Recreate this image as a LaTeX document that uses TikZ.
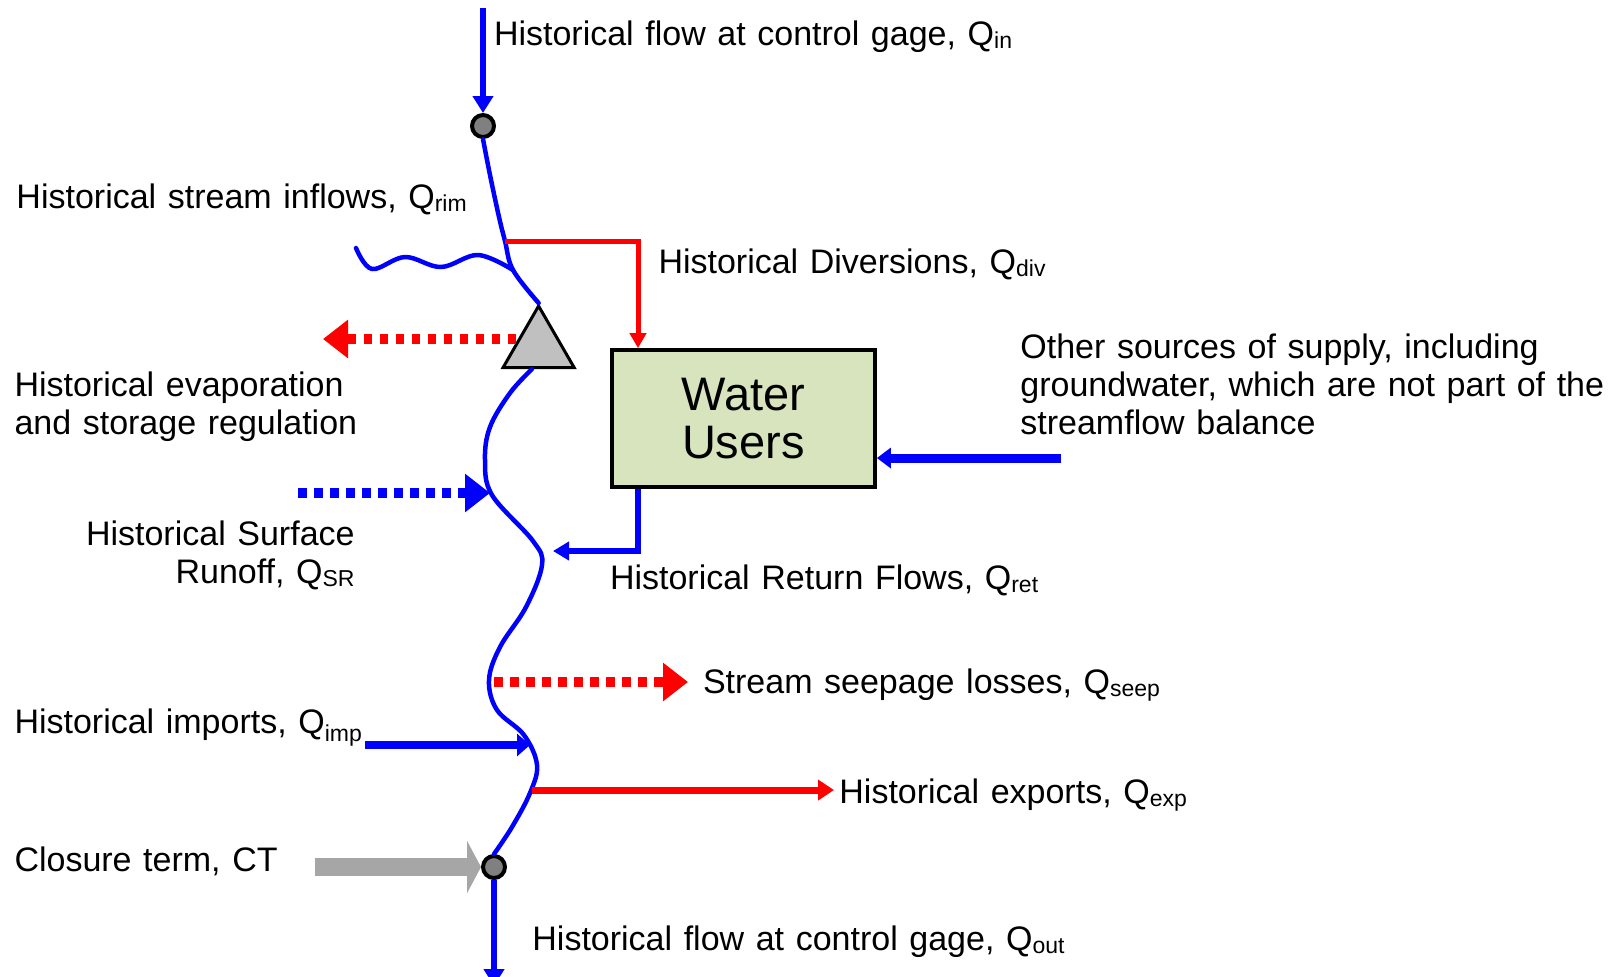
\documentclass[tikz,border=0pt]{standalone}
\usepackage{fontspec}
\setmainfont{Liberation Sans}
\usetikzlibrary{arrows.meta,shapes.geometric}
\definecolor{rblue}{RGB}{0,0,255}
\definecolor{rred}{RGB}{255,0,0}
\definecolor{boxgreen}{RGB}{215,228,189}
\definecolor{ctgray}{RGB}{166,166,166}
\definecolor{gagegray}{RGB}{128,128,128}
\definecolor{trigray}{RGB}{192,192,192}
\newcommand\qsub[1]{\raisebox{-1.5pt}{\fontsize{11.5}{11.5}\selectfont #1}}
\newcommand\qlow[1]{\raisebox{-4pt}{\fontsize{11.5}{11.5}\selectfont #1}}
\newcommand\lblfont{\fontsize{17}{19}\selectfont\spaceskip=5.8pt plus 1pt minus 1pt\relax}
\begin{document}
\begin{tikzpicture}[x=0.5pt,y=-0.5pt,
  lbl/.style={font=\lblfont, inner sep=0pt, outer sep=0pt, text=black},
  gage/.style={circle, draw=black, line width=2pt, fill=gagegray, minimum size=11pt, inner sep=0pt},
  river/.style={draw=rblue, line width=2.25pt, line join=round, line cap=round},
  dotarrow/.style={line width=5pt, dash pattern=on 4.25pt off 3.75pt, -{Triangle[length=12.5pt,width=18.5pt]}},
]
\useasboundingbox (0,0) rectangle (1621,976);

% gages, reservoir, water users
\node[gage] (g1) at (483,126) {};
\node[gage] (g2) at (494,867) {};
\node[regular polygon, regular polygon sides=3, minimum size=41pt, inner sep=0pt,
      draw=black, line width=1.5pt, fill=trigray] (tri) at (538.6,347) {};
\node[draw=black, line width=2pt, fill=boxgreen, minimum width=131.5pt, minimum height=68.5pt,
      font=\fontsize{23.5}{24.3}\selectfont, align=center, inner sep=0pt] (box) at (743.4,418.7) {Water\\Users};

% coordinates
\coordinate (tin) at (483,8);
\coordinate (tout) at (494,986);
\coordinate (rj) at (505,241);
\coordinate (tj) at (513,270);
\coordinate (trs) at (356,248);
\coordinate (rb) at (532,369);
\coordinate (dc) at (638,241);
\coordinate (evs) at (516,339);
\coordinate (evt) at (323,339);
\coordinate (srs) at (298,493);
\coordinate (srt) at (490,493);
\coordinate (sps) at (494,682);
\coordinate (spt) at (688,682);
\coordinate (os) at (1061,458);
\coordinate (rc) at (638,551);
\coordinate (rt) at (553,551);
\coordinate (ims) at (365,745);
\coordinate (imt) at (530,745);
\coordinate (exs) at (532,790);
\coordinate (ext) at (834,790);
\coordinate (cts) at (315,867);

% river
\draw[river] plot[smooth, tension=0.6] coordinates {(g1.south) (490,175) (499,217) (rj) (tj) (tri.corner 1)};
\draw[river] plot[smooth, tension=0.6] coordinates {(rb) (510,393) (490,427) (485,460) (492,495) (533,541) (542,565) (526,607) (500,647) (489,680) (497,710) (524,735) (537,765) (530,793) (512,827) (g2.north)};
\draw[river] plot[smooth, tension=0.6] coordinates {(trs) (372,269) (405,257) (441,267) (478,255) (tj)};

% flows
\draw[rblue, line width=3pt, -{Triangle[length=8.5pt,width=10pt]}] (tin) -- (g1.north);
\draw[rblue, line width=3pt, -{Triangle[length=8.5pt,width=10pt]}] (g2.south) -- (tout);
\draw[rred, line width=2.5pt, -{Triangle[length=7.5pt,width=8pt]}] (rj) -- (dc) -- (dc |- box.north);
\draw[rred, dotarrow] (evs) -- (evt);
\draw[rblue, dotarrow] (srs) -- (srt);
\draw[rred, dotarrow] (sps) -- (spt);
\draw[rblue, line width=4.5pt, -{Triangle[length=7pt,width=10pt]}] (os) -- (box.east |- os);
\draw[rblue, line width=3pt, -{Triangle[length=8pt,width=9pt]}] (box.south -| rc) -- (rc) -- (rt);
\draw[rblue, line width=4pt, -{Triangle[length=6.5pt,width=11pt]}] (ims) -- (imt);
\draw[rred, line width=3.5pt, -{Triangle[length=8pt,width=10pt]}] (exs) -- (ext);
\draw[ctgray, line width=9pt, -{Triangle[length=7pt,width=26pt]}] (cts) -- (g2.west);

% labels
\node[lbl, anchor=base west] (lin) at (494,45.5) {Historical flow at control gage, Q\qsub{in}};
\node[lbl, anchor=base west] (lrim) at (16.5,208.8) {Historical stream inflows, Q\qsub{rim}};
\node[lbl, anchor=base west] (ldiv) at (658.5,273) {Historical Diversions, Q\qsub{div}};
\node[lbl, anchor=west, align=left] (levap) at (14.5,406.4) {Historical evaporation\\and storage regulation};
\node[lbl, anchor=west, align=left] (lother) at (1020.4,384) {Other sources of supply, including\\groundwater, which are not part of the\\streamflow balance};
\node[lbl, anchor=east, align=right] (lsr) at (354.6,555) {Historical Surface\\Runoff, Q\qsub{SR}};
\node[lbl, anchor=base west] (lret) at (610,589) {Historical Return Flows, Q\qsub{ret}};
\node[lbl, anchor=base west] (lseep) at (703,693.7) {Stream seepage losses, Q\qsub{seep}};
\node[lbl, anchor=base west] (limp) at (14.5,733) {Historical imports, Q\qlow{imp}};
\node[lbl, anchor=base west] (lexp) at (839.4,803) {Historical exports, Q\qsub{exp}};
\node[lbl, anchor=base west] (lct) at (14.5,871.5) {Closure term, CT};
\node[lbl, anchor=base west] (lout) at (532.4,950) {Historical flow at control gage, Q\qsub{out}};
\end{tikzpicture}
\end{document}
